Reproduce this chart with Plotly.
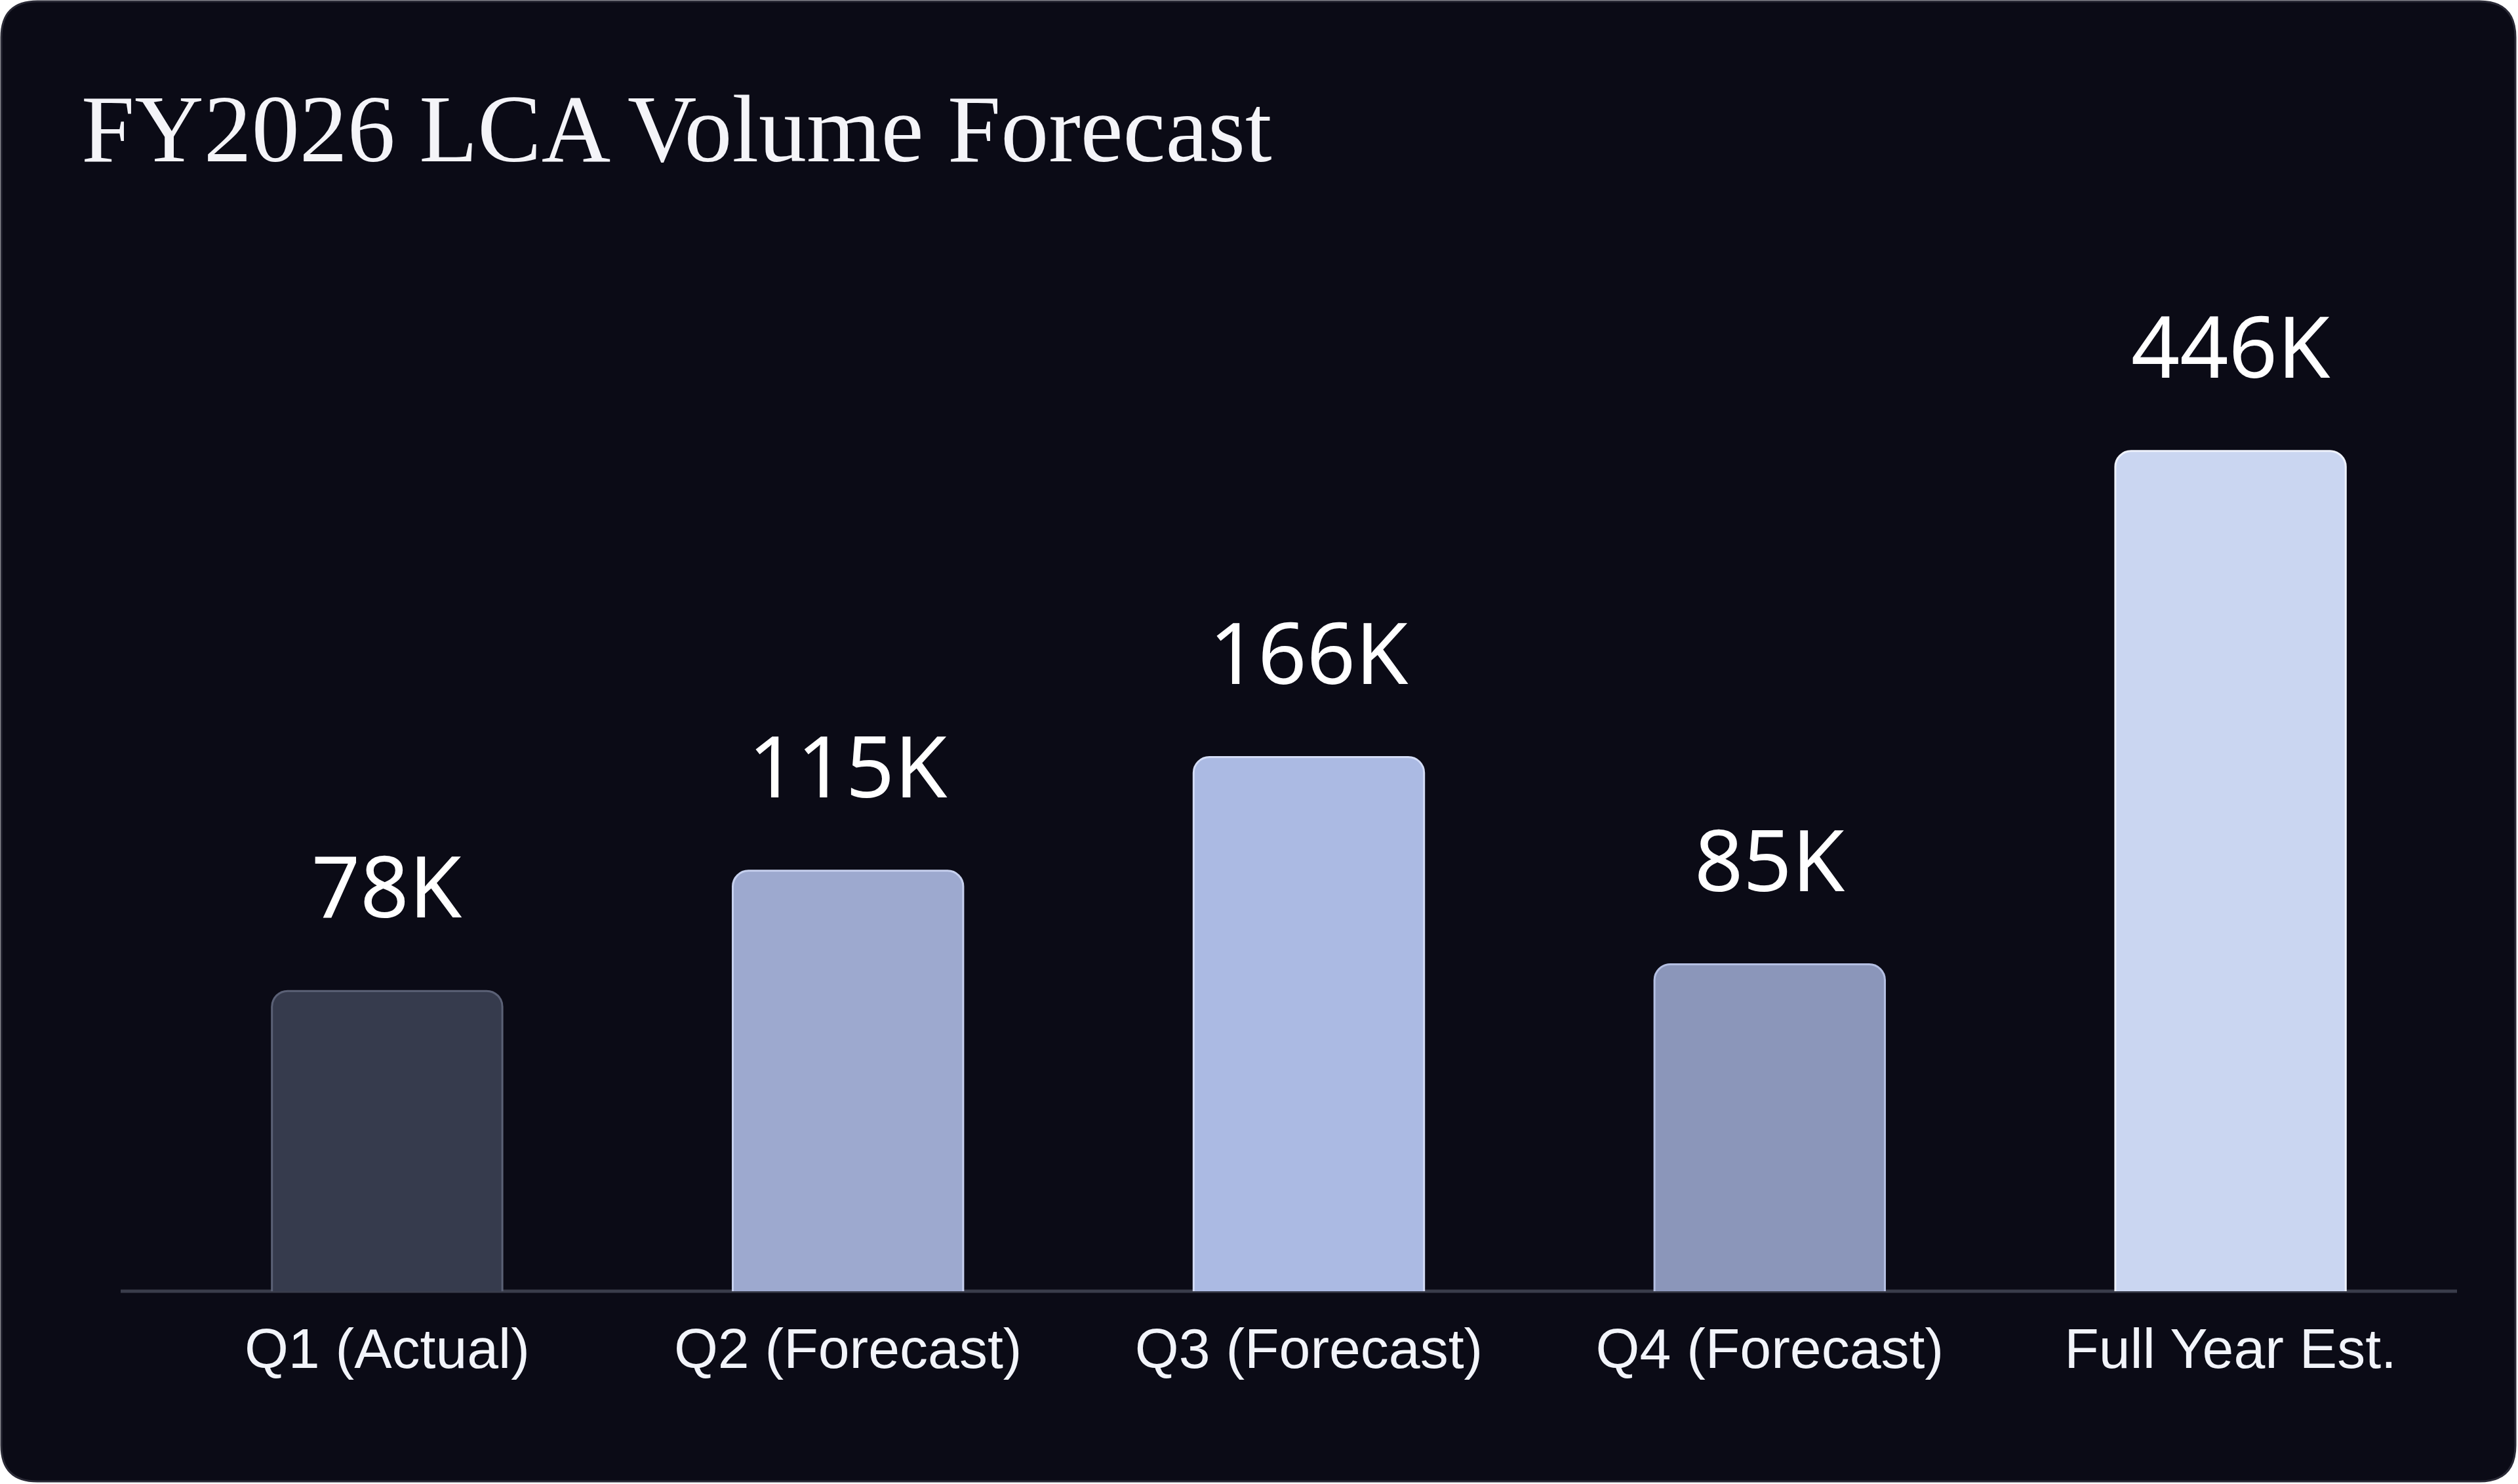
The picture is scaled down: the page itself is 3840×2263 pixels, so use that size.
import numpy as np
import plotly.graph_objects as go

# ---- data ----
categories = ["Q1 (Actual)", "Q2 (Forecast)", "Q3 (Forecast)", "Q4 (Forecast)", "Full Year Est."]
values_k = [78, 115, 166, 85, 446]
value_labels = ["78K", "115K", "166K", "85K", "446K"]
bar_colors = ["#363B4D", "#9DA9CF", "#ABBAE3", "#8B96BA", "#CAD6F1"]
bar_line_colors = ["#5B6176", "#C6D0EE", "#D3DCF6", "#B4BFE2", "#EEF2FC"]
title_text = "FY2026 LCA Volume Forecast"

# ---- layout geometry (pixels) ----
W, H = 3840, 2263
ML, MR, MT, MB = 239, 87, 300, 294
PW, PH = W - ML - MR, H - MT - MB
BG = "#0B0B16"


def xp(px):
    return (px - ML) / PW


def yp(py):
    return (H - MB - py) / PH


def rounded_rect_path(x0, y0, x1, y1, r):
    pts = [
        ("M", xp(x0 + r), yp(y0)),
        ("L", xp(x1 - r), yp(y0)),
        ("Q", xp(x1), yp(y0), xp(x1), yp(y0 + r)),
        ("L", xp(x1), yp(y1 - r)),
        ("Q", xp(x1), yp(y1), xp(x1 - r), yp(y1)),
        ("L", xp(x0 + r), yp(y1)),
        ("Q", xp(x0), yp(y1), xp(x0), yp(y1 - r)),
        ("L", xp(x0), yp(y0 + r)),
        ("Q", xp(x0), yp(y0), xp(x0 + r), yp(y0)),
    ]
    s = ""
    for p in pts:
        cmd = p[0]
        coords = p[1:]
        pairs = [f"{coords[i]:.5f},{coords[i+1]:.5f}" for i in range(0, len(coords), 2)]
        s += cmd + " " + " ".join(pairs) + " "
    return s + "Z"


fig = go.Figure()
fig.add_trace(
    go.Bar(
        x=categories,
        y=values_k,
        width=0.5,
        marker=dict(
            color=bar_colors,
            line=dict(color=bar_line_colors, width=3),
            cornerradius=24,
        ),
        hoverinfo="skip",
    )
)

# value labels above bars (log axis -> annotation y in log10 units)
for cat, v, lab in zip(categories, values_k, value_labels):
    fig.add_annotation(
        x=cat,
        y=np.log10(v),
        text=lab,
        showarrow=False,
        yanchor="bottom",
        yshift=72,
        font=dict(family="Noto Sans, Liberation Sans, sans-serif", size=130, color="#FFFFFF"),
    )

# title
fig.add_annotation(
    xref="paper",
    yref="paper",
    x=xp(122),
    y=yp(280),
    xanchor="left",
    yanchor="bottom",
    text=title_text,
    showarrow=False,
    font=dict(family="Liberation Serif, Georgia, serif", size=146, color="#F4F4F8"),
)

shapes = [
    dict(
        type="path",
        xref="paper",
        yref="paper",
        path=rounded_rect_path(2, 2, 3836, 2259, 55),
        fillcolor=BG,
        line=dict(color="#2A2A36", width=3),
        layer="below",
    ),
    dict(
        type="line",
        xref="paper",
        yref="paper",
        x0=xp(184),
        x1=xp(3747),
        y0=0,
        y1=0,
        line=dict(color="#3A3D4B", width=5),
        layer="below",
    ),
]

fig.update_layout(
    width=W,
    height=H,
    margin=dict(l=ML, r=MR, t=MT, b=MB, pad=0),
    paper_bgcolor="#FFFFFF",
    plot_bgcolor="rgba(0,0,0,0)",
    showlegend=False,
    shapes=shapes,
    bargap=0.5,
)
fig.update_xaxes(
    showgrid=False,
    zeroline=False,
    showline=False,
    ticks="",
    ticklabelstandoff=30,
    tickfont=dict(family="Liberation Sans, Arial, sans-serif", size=86, color="#F2F4FA"),
)
fig.update_yaxes(
    type="log",
    range=[1.471, 3.006],
    visible=False,
    showgrid=False,
    zeroline=False,
)

fig.write_html("out.html")
